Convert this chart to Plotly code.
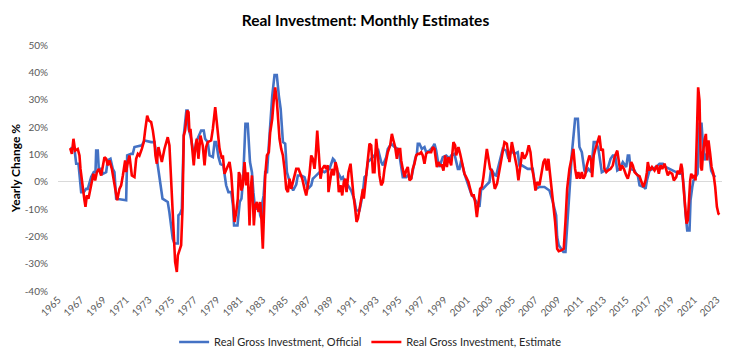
import plotly.graph_objects as go

# ---- data (decimal year, yearly change %) ----
official_year = [
    1966.07, 1966.45, 1966.60, 1966.80, 1967.04, 1967.27, 1967.48, 1967.62, 1967.92, 1968.15,
    1968.30, 1968.36, 1968.50, 1968.59, 1968.80, 1968.94, 1969.24, 1969.38, 1969.62, 1969.82,
    1969.97, 1970.12, 1971.00, 1971.09, 1971.44, 1971.58, 1971.73, 1972.17, 1972.38, 1972.61,
    1973.20, 1973.49, 1973.79, 1973.95, 1974.20, 1974.66, 1974.80, 1975.10, 1975.25, 1975.55,
    1975.60, 1975.75, 1975.90, 1976.07, 1976.30, 1976.40, 1976.50, 1976.66, 1976.87, 1977.07,
    1977.16, 1977.60, 1977.83, 1977.95, 1978.18, 1978.34, 1978.63, 1978.78, 1978.92, 1979.13,
    1979.30, 1979.55, 1979.80, 1980.00, 1980.25, 1980.40, 1980.50, 1980.80, 1981.00, 1981.15,
    1981.30, 1981.50, 1981.70, 1981.90, 1982.07, 1982.20, 1982.35, 1982.60, 1982.70, 1982.80,
    1982.90, 1983.00, 1983.10, 1983.24, 1983.40, 1983.56, 1983.68, 1983.86, 1984.06, 1984.26,
    1984.44, 1984.60, 1984.80, 1985.00, 1985.15, 1985.40, 1985.70, 1985.97, 1986.11, 1986.41,
    1986.70, 1986.85, 1987.00, 1987.29, 1987.43, 1987.58, 1987.87, 1988.17, 1988.46, 1988.75,
    1988.90, 1989.20, 1989.34, 1989.49, 1989.78, 1989.93, 1990.08, 1990.28, 1990.52, 1990.81,
    1990.96, 1991.10, 1991.25, 1991.54, 1991.69, 1991.84, 1991.98, 1992.13, 1992.28, 1992.57,
    1992.86, 1993.16, 1993.45, 1993.60, 1993.89, 1994.03, 1994.33, 1994.62, 1994.91, 1995.06,
    1995.21, 1995.35, 1995.65, 1995.79, 1996.09, 1996.23, 1996.44, 1996.59, 1996.67, 1996.82,
    1997.03, 1997.26, 1997.41, 1997.70, 1998.00, 1998.14, 1998.29, 1998.43, 1998.58, 1998.87,
    1999.17, 1999.46, 1999.61, 1999.90, 2000.20, 2000.34, 2000.49, 2000.78, 2000.93, 2001.22,
    2001.37, 2001.66, 2001.96, 2002.10, 2002.25, 2002.40, 2002.69, 2002.98, 2003.13, 2003.42,
    2003.57, 2003.71, 2003.95, 2004.15, 2004.45, 2004.65, 2004.89, 2005.18, 2005.47, 2005.62,
    2005.83, 2006.06, 2006.35, 2006.79, 2006.94, 2007.09, 2007.38, 2007.82, 2008.26, 2008.56,
    2008.70, 2008.85, 2008.94, 2009.08, 2009.29, 2009.49, 2009.67, 2009.82, 2009.93, 2010.08,
    2010.23, 2010.37, 2010.52, 2010.76, 2010.90, 2011.11, 2011.20, 2011.34, 2011.49, 2011.69,
    2011.93, 2012.16, 2012.37, 2012.57, 2012.87, 2013.16, 2013.40, 2013.64, 2013.84, 2014.05,
    2014.23, 2014.43, 2014.72, 2014.93, 2015.02, 2015.16, 2015.28, 2015.40, 2015.75, 2015.90,
    2016.04, 2016.19, 2016.60, 2016.72, 2016.84, 2017.07, 2017.36, 2017.66, 2017.95, 2018.25,
    2018.48, 2018.83, 2019.12, 2019.42, 2019.71, 2019.95, 2020.09, 2020.24, 2020.39, 2020.59,
    2020.68, 2020.83, 2020.94, 2021.12, 2021.30, 2021.47, 2021.65, 2021.77, 2021.91, 2022.06,
    2022.35, 2022.50, 2022.70, 2022.88,
]
official_pct = [
    12.3, 12.0, 6.6, 6.6, -3.8, -3.8, -2.6, -2.6, 1.7, 3.5,
    3.5, 11.4, 11.4, 4.7, 4.7, 2.9, 3.5, 7.8, 8.4, 4.7,
    3.5, -6.2, -6.8, 9.6, 10.2, 10.2, 12.7, 13.3, 13.3, 15.1,
    14.5, 14.5, 6.0, 1.1, -6.2, -7.4, -11.0, -20.8, -22.6, -22.6,
    -12.3, -11.7, -9.9, 16.9, 26.0, 26.0, 19.3, 16.9, 12.0, 10.8,
    14.5, 18.7, 18.7, 15.7, 14.5, 9.6, 9.0, 14.5, 14.5, 9.0,
    6.5, 6.0, -1.3, -3.8, -3.8, -8.6, -16.0, -16.0, -7.4, -6.2,
    1.1, 21.2, 21.2, 7.2, 3.5, -3.8, -9.9, -9.9, -8.6, -12.3,
    -13.5, -7.4, -5.0, 3.5, 3.5, 13.3, 21.8, 31.5, 39.0, 39.0,
    31.5, 26.6, 14.5, 13.9, 3.5, 0.0, -3.2, -1.0, 2.3, 2.3,
    1.7, -0.1, -2.6, -1.3, 1.1, 1.7, 2.9, 4.1, 3.5, 4.1,
    4.7, 8.4, 7.8, 4.7, 2.3, 1.1, 1.7, -1.3, -1.3, -3.2,
    -5.0, -6.8, -10.5, -10.5, -7.4, -3.8, 1.7, 2.3, 7.2, 8.4,
    9.6, 12.0, 7.2, 6.0, 9.0, 12.0, 13.9, 12.7, 12.0, 9.6,
    4.7, 1.7, 1.7, 2.3, 1.1, 4.7, 8.4, 10.2, 13.9, 13.9,
    12.0, 12.7, 10.8, 11.4, 12.7, 13.9, 11.4, 7.8, 5.4, 9.0,
    9.6, 8.4, 9.6, 10.2, 4.7, 4.7, 7.8, 2.9, 1.1, -2.6,
    -4.4, -6.2, -8.6, -9.2, -2.6, -2.6, -1.3, -0.1, 4.7, 2.5,
    2.3, 4.7, 9.0, 12.0, 11.4, 8.4, 11.4, 10.2, 10.8, 6.0,
    6.0, 5.4, 4.7, 4.7, -0.1, -2.6, -1.9, -1.9, -3.2, -7.4,
    -9.9, -12.3, -20.2, -23.2, -24.5, -25.7, -25.7, -17.2, -9.2, -0.1,
    10.2, 16.9, 23.0, 23.0, 12.7, 10.8, 7.8, 4.1, 3.5, 4.7,
    3.5, 14.5, 14.5, 12.0, 3.5, 4.1, 5.0, 8.4, 9.6, 9.6,
    4.1, 4.7, 7.2, 6.0, 5.4, 9.6, 9.6, 4.7, 4.1, 2.9,
    2.3, -1.3, -2.0, -2.6, 0.5, 4.1, 4.7, 5.4, 6.6, 6.6,
    5.4, 4.7, 4.1, 3.5, 2.9, 2.9, -2.0, -11.7, -17.8, -17.8,
    -6.8, -2.0, 0.5, 1.7, 2.9, 21.2, 21.2, 13.9, 7.8, 10.2,
    9.0, 4.1, 2.3, 1.7,
]

estimate_year = [
    1966.07, 1966.22, 1966.36, 1966.51, 1966.74, 1966.89, 1966.98, 1967.10, 1967.21, 1967.33,
    1967.42, 1967.54, 1967.68, 1967.83, 1967.98, 1968.12, 1968.27, 1968.42, 1968.59, 1968.80,
    1969.09, 1969.24, 1969.38, 1969.53, 1969.74, 1969.97, 1970.15, 1970.21, 1970.41, 1970.56,
    1970.71, 1970.91, 1971.00, 1971.09, 1971.29, 1971.50, 1971.73, 1971.88, 1972.03, 1972.17,
    1972.38, 1972.55, 1972.67, 1972.85, 1972.99, 1973.20, 1973.35, 1973.49, 1973.58, 1973.70,
    1973.84, 1974.02, 1974.14, 1974.37, 1974.52, 1974.66, 1974.81, 1974.96, 1975.05, 1975.16,
    1975.31, 1975.46, 1975.55, 1975.70, 1975.84, 1975.96, 1976.07, 1976.19, 1976.37, 1976.49,
    1976.57, 1976.66, 1976.78, 1976.95, 1977.07, 1977.22, 1977.36, 1977.54, 1977.74, 1977.90,
    1978.04, 1978.18, 1978.48, 1978.63, 1978.84, 1978.98, 1979.16, 1979.22, 1979.43, 1979.51,
    1979.66, 1979.87, 1980.10, 1980.25, 1980.39, 1980.54, 1980.69, 1980.83, 1980.92, 1981.04,
    1981.13, 1981.27, 1981.42, 1981.57, 1981.71, 1981.86, 1981.95, 1982.07, 1982.24, 1982.36,
    1982.51, 1982.65, 1982.80, 1982.89, 1983.03, 1983.12, 1983.24, 1983.39, 1983.56, 1983.68,
    1983.86, 1984.00, 1984.12, 1984.27, 1984.38, 1984.50, 1984.65, 1984.80, 1984.94, 1985.09,
    1985.24, 1985.38, 1985.53, 1985.73, 1985.97, 1986.17, 1986.35, 1986.50, 1986.70, 1986.85,
    1987.00, 1987.14, 1987.29, 1987.43, 1987.58, 1987.67, 1987.82, 1987.96, 1988.11, 1988.26,
    1988.46, 1988.61, 1988.75, 1988.81, 1988.96, 1989.11, 1989.28, 1989.43, 1989.58, 1989.72,
    1989.87, 1990.02, 1990.16, 1990.28, 1990.40, 1990.57, 1990.75, 1990.87, 1991.01, 1991.16,
    1991.28, 1991.40, 1991.54, 1991.69, 1991.84, 1991.92, 1992.13, 1992.28, 1992.42, 1992.57,
    1992.72, 1992.86, 1993.01, 1993.16, 1993.30, 1993.45, 1993.60, 1993.74, 1994.03, 1994.24,
    1994.39, 1994.53, 1994.68, 1994.83, 1994.97, 1995.12, 1995.21, 1995.35, 1995.50, 1995.65,
    1995.79, 1995.94, 1996.09, 1996.23, 1996.38, 1996.53, 1996.67, 1996.82, 1996.97, 1997.11,
    1997.26, 1997.41, 1997.55, 1997.85, 1997.99, 1998.14, 1998.35, 1998.49, 1998.64, 1998.79,
    1998.93, 1999.08, 1999.23, 1999.37, 1999.61, 1999.81, 1999.96, 2000.05, 2000.25, 2000.40,
    2000.64, 2000.78, 2000.93, 2001.13, 2001.28, 2001.43, 2001.60, 2001.72, 2001.87, 2002.01,
    2002.16, 2002.31, 2002.45, 2002.75, 2002.89, 2003.04, 2003.19, 2003.33, 2003.45, 2003.65,
    2003.86, 2004.07, 2004.30, 2004.51, 2004.74, 2004.95, 2005.12, 2005.24, 2005.39, 2005.53,
    2005.68, 2005.86, 2006.06, 2006.27, 2006.44, 2006.59, 2006.74, 2006.88, 2007.03, 2007.18,
    2007.38, 2007.59, 2007.73, 2007.88, 2008.03, 2008.17, 2008.32, 2008.47, 2008.61, 2008.76,
    2008.94, 2009.08, 2009.29, 2009.52, 2009.67, 2009.82, 2010.02, 2010.17, 2010.37, 2010.52,
    2010.67, 2010.81, 2010.96, 2011.11, 2011.25, 2011.40, 2011.55, 2011.78, 2011.93, 2012.02,
    2012.16, 2012.31, 2012.46, 2012.66, 2012.81, 2012.96, 2013.10, 2013.26, 2013.40, 2013.64,
    2013.84, 2013.99, 2014.23, 2014.34, 2014.49, 2014.64, 2014.81, 2015.02, 2015.16, 2015.31,
    2015.46, 2015.60, 2015.75, 2016.04, 2016.19, 2016.42, 2016.54, 2016.72, 2016.84, 2016.92,
    2017.07, 2017.28, 2017.51, 2017.72, 2017.89, 2018.04, 2018.19, 2018.39, 2018.54, 2018.68,
    2018.83, 2019.07, 2019.21, 2019.42, 2019.56, 2019.71, 2019.86, 2019.95, 2020.06, 2020.21,
    2020.33, 2020.44, 2020.53, 2020.65, 2020.74, 2020.88, 2021.03, 2021.12, 2021.24, 2021.35,
    2021.47, 2021.59, 2021.68, 2021.77, 2021.91, 2022.03, 2022.15, 2022.26, 2022.41, 2022.53,
    2022.70, 2022.85, 2023.00, 2023.14, 2023.23,
]
estimate_pct = [
    12.3, 10.2, 15.7, 11.4, 12.0, 9.6, 4.7, -0.1, -2.6, -6.8,
    -9.2, -5.0, -6.2, -2.6, 1.1, 2.9, 0.5, 3.5, 4.7, 2.3,
    9.0, 8.4, 6.0, 7.8, 4.7, -0.7, -5.0, -6.8, -2.6, -1.3,
    2.3, 7.8, 3.5, 6.0, 9.6, 2.3, 1.7, 8.4, 10.2, 9.6,
    12.0, 14.5, 18.7, 24.2, 22.4, 21.8, 18.7, 14.5, 9.6, 6.6,
    12.7, 9.5, 7.2, 12.0, 14.0, 16.3, 13.3, 0.0, -11.0, -20.8,
    -29.3, -33.0, -26.9, -25.0, -23.2, -9.9, 16.9, 18.7, 26.0, 25.4,
    18.1, 19.3, 14.5, 6.0, 12.0, 15.7, 8.4, 16.9, 13.3, 6.0,
    12.7, 14.5, 15.1, 19.3, 27.3, 21.8, 14.5, 12.0, 8.4, 9.6,
    2.9, 4.7, 7.2, 2.9, -6.2, -14.7, -11.1, -6.2, 3.5, 2.3,
    -3.2, -1.3, 7.2, -1.3, 3.5, -16.0, -3.8, 2.3, -16.0, -8.6,
    -7.4, -11.1, -7.4, -12.3, -24.5, -12.3, 2.3, 9.6, 10.8, 18.1,
    23.0, 30.3, 34.5, 29.1, 23.0, 15.7, 12.0, 9.6, 4.7, -2.6,
    -3.8, 1.1, -2.6, 1.1, 4.7, 4.7, 2.9, 1.1, -2.6, -5.0,
    -1.3, 2.9, 9.6, 8.4, 4.7, 8.4, 18.7, 9.6, 1.1, 4.7,
    6.0, 4.7, 6.0, -3.8, 1.1, 4.7, 2.3, 7.2, 4.7, -3.8,
    -1.3, -5.0, -0.1, 1.1, -3.8, 3.5, 6.6, -0.1, -5.0, -9.9,
    -14.7, -13.5, -9.9, -7.4, -2.6, -6.2, 2.3, 8.4, 13.9, 13.3,
    3.5, 3.5, 15.7, 9.6, 2.3, -1.3, -0.1, 4.7, 10.8, 13.3,
    17.5, 15.1, 12.7, 8.4, 12.0, 12.0, 7.8, 4.7, 1.7, 4.1,
    5.4, 0.5, 1.1, 4.7, 6.6, 9.6, 10.2, 10.2, 10.8, 9.6,
    6.6, 10.2, 10.8, 10.8, 12.7, 12.0, 5.4, 7.2, 6.0, 6.0,
    4.1, 9.6, 5.4, 9.0, 6.0, 14.5, 13.3, 9.6, 12.7, 10.2,
    4.7, 2.9, 1.7, -0.1, -2.6, -5.0, -5.0, -7.4, -12.9, -7.4,
    -2.6, -1.9, 1.7, 12.0, 8.4, 4.7, 4.1, 1.1, -2.6, -0.7,
    4.7, 9.6, 14.5, 13.9, 7.2, 14.5, 10.8, 9.6, 5.4, 0.5,
    6.0, 10.8, 8.4, 10.2, 13.3, 10.8, 4.7, 1.7, -3.2, -0.1,
    -1.3, 4.7, 7.2, 8.4, 4.1, 8.4, 2.3, -2.6, -8.6, -14.7,
    -24.5, -25.4, -25.1, -24.5, -14.7, -2.6, 4.7, 8.4, 12.0, 4.7,
    1.1, 3.5, 1.1, 3.5, 1.1, 2.3, 6.0, 9.6, 7.8, 1.7,
    9.6, 12.0, 14.5, 16.9, 11.4, 12.0, 4.7, 3.5, 4.1, 4.7,
    6.0, 9.0, 11.4, 7.8, 4.1, 6.0, 4.7, 2.3, 1.1, 3.5,
    7.2, 6.0, 3.5, 2.3, 2.0, -0.7, -1.9, 0.5, 3.5, 7.2,
    4.1, 5.4, 4.1, 6.0, 2.9, 6.0, 4.7, 6.6, 4.1, 2.3,
    3.5, 2.9, 0.5, 1.7, 4.1, 2.9, 6.6, 4.7, -1.9, -9.2,
    -15.3, -14.1, -5.6, 0.5, 2.9, 1.7, 2.3, 0.5, 17.5, 34.5,
    29.7, 5.4, 4.1, 10.2, 15.1, 17.5, 7.8, 15.1, 10.2, 5.4,
    2.9, -1.9, -9.2, -11.7, -12.0,
]

year_ticks = list(range(1965, 2024, 2))
year_labels = [str(y) for y in year_ticks]
pct_ticks = list(range(-40, 51, 10))
pct_labels = [f"{v}%" for v in pct_ticks]

FONT = "Lato"

fig = go.Figure()
fig.add_trace(go.Scatter(
    x=official_year, y=official_pct, mode="lines",
    name="Real Gross Investment, Official",
    line=dict(color="#4472C4", width=2.6),
))
fig.add_trace(go.Scatter(
    x=estimate_year, y=estimate_pct, mode="lines",
    name="Real Gross Investment, Estimate",
    line=dict(color="#FF0000", width=2.6),
))

fig.update_layout(
    width=731, height=362,
    margin=dict(l=58, r=9, t=45, b=69),
    paper_bgcolor="white", plot_bgcolor="white",
    font=dict(family=FONT, color="#595959"),
    title=dict(
        text="<b>Real Investment: Monthly Estimates</b>",
        x=0.5, xref="container", xanchor="center",
        y=1 - 21 / 362, yref="container", yanchor="middle",
        font=dict(family=FONT, size=15.5, color="#000000"),
    ),
    showlegend=True,
    legend=dict(
        orientation="h", xref="container", x=0.507, xanchor="center",
        yref="container", y=20 / 362, yanchor="middle",
        font=dict(family=FONT, size=11, color="#262626"),
        itemwidth=30, tracegroupgap=0,
    ),
    xaxis=dict(
        range=[1965, 2023.45],
        tickmode="array", tickvals=year_ticks, ticktext=year_labels,
        tickangle=-45, tickfont=dict(size=10, color="#595959"),
        showgrid=False, zeroline=False, showline=False, ticks="",
    ),
    yaxis=dict(
        range=[-40, 50],
        tickmode="array", tickvals=pct_ticks, ticktext=pct_labels,
        tickfont=dict(size=10, color="#595959"),
        showgrid=False, zeroline=True, zerolinecolor="#D9D9D9", zerolinewidth=1,
        showline=False, ticks="", ticklabelstandoff=9,
        title=dict(text="<b>Yearly Change %</b>", standoff=1,
                   font=dict(family=FONT, size=12, color="#000000")),
    ),
)

fig.write_html(
    "out.html",
    config={"displayModeBar": False},
    post_script="document.body.style.margin='0';",
)
